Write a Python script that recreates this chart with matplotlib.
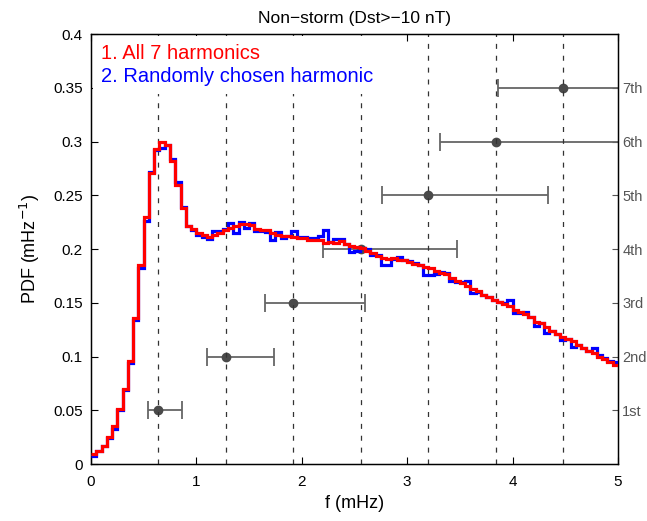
import numpy as np
import matplotlib
matplotlib.use('Agg')
import matplotlib.pyplot as plt
from matplotlib.ticker import FormatStrFormatter

plt.rcParams['font.family'] = ['Liberation Sans', 'DejaVu Sans']

# histogram, 0.05 mHz bins from 0 to 5 mHz
bin_width = 0.05
pdf_all = [0.009, 0.012, 0.017, 0.025, 0.035, 0.051, 0.070, 0.096, 0.136, 0.185,
           0.230, 0.271, 0.293, 0.300, 0.297, 0.282, 0.260, 0.238, 0.221, 0.2185,
           0.215, 0.213, 0.211, 0.2135, 0.215, 0.2175, 0.220, 0.2215, 0.223, 0.2233,
           0.222, 0.219, 0.2178, 0.218, 0.2152, 0.213, 0.212, 0.2118, 0.211, 0.210,
           0.2098, 0.2085, 0.2084, 0.208, 0.206, 0.2068, 0.2053, 0.2075, 0.2045, 0.2028,
           0.2015, 0.2006, 0.1985, 0.196, 0.1935, 0.1915, 0.1905, 0.1912, 0.190, 0.1895,
           0.188, 0.1865, 0.1851, 0.1835, 0.182, 0.1795, 0.178, 0.1765, 0.173, 0.1705,
           0.168, 0.166, 0.163, 0.1605, 0.157, 0.1555, 0.153, 0.151, 0.149, 0.147,
           0.1435, 0.141, 0.140, 0.1365, 0.1325, 0.131, 0.1275, 0.1235, 0.121, 0.1185,
           0.116, 0.114, 0.111, 0.108, 0.1055, 0.103, 0.100, 0.0975, 0.095, 0.0925]
pdf_random = [0.0075, 0.012, 0.0165, 0.024, 0.033, 0.0505, 0.069, 0.094, 0.134, 0.182,
              0.226, 0.272, 0.292, 0.294, 0.297, 0.284, 0.262, 0.239, 0.221, 0.218,
              0.2135, 0.2115, 0.2095, 0.217, 0.2165, 0.2185, 0.224, 0.215, 0.225, 0.2195,
              0.2245, 0.217, 0.217, 0.2155, 0.2084, 0.216, 0.2105, 0.212, 0.217, 0.211,
              0.211, 0.2105, 0.210, 0.212, 0.218, 0.2065, 0.209, 0.209, 0.2045, 0.1975,
              0.198, 0.2006, 0.200, 0.1945, 0.194, 0.1855, 0.1855, 0.1905, 0.1925, 0.190,
              0.189, 0.187, 0.185, 0.176, 0.1755, 0.177, 0.179, 0.178, 0.170, 0.1695,
              0.169, 0.1705, 0.159, 0.160, 0.157, 0.1555, 0.153, 0.151, 0.1495, 0.153,
              0.1405, 0.1405, 0.141, 0.137, 0.128, 0.131, 0.122, 0.124, 0.121, 0.1155,
              0.116, 0.109, 0.1105, 0.1075, 0.105, 0.108, 0.101, 0.099, 0.0955, 0.0945]

# harmonic centres and ranges
harm_f = [0.64, 1.28, 1.92, 2.56, 3.20, 3.84, 4.48]
harm_lo = [0.545, 1.10, 1.65, 2.20, 2.76, 3.31, 3.86]
harm_hi = [0.865, 1.74, 2.60, 3.47, 4.34, 5.40, 5.60]
harm_rank = [1, 2, 3, 4, 5, 6, 7]
harm_labels = ['1st', '2nd', '3rd', '4th', '5th', '6th', '7th']

edges = np.arange(len(pdf_all) + 1) * bin_width

fig = plt.figure(figsize=(6.47, 5.21), dpi=100)
ax = fig.add_axes([0.1406, 0.1094, 0.8146, 0.8253])
ax2 = ax.twinx()

# error bars on the right axis, under the histograms
f = np.array(harm_f)
xerr = [f - np.array(harm_lo), np.array(harm_hi) - f]
ax2.errorbar(harm_f, harm_rank, xerr=xerr, fmt='o', color='#4a4a4a', ecolor='#666666',
             ms=6, elinewidth=1.3, capsize=6.5, capthick=1.3)
ax2.set_ylim(0, 8)
ax2.set_yticks(harm_rank)
ax2.set_yticklabels(harm_labels)
ax2.tick_params(axis='y', direction='in', length=4, color='#555555', labelcolor='#555555',
                labelsize=10.5, pad=3)

ax.set_zorder(ax2.get_zorder() + 1)
ax.patch.set_visible(False)

for fc in harm_f:
    ax.axvline(fc, color='#333333', lw=0.9, ls=(0, (4, 5.5)), zorder=1)

l2 = ax.stairs(pdf_random, edges, baseline=None, color='blue', lw=2.3, zorder=3,
               label='2. Randomly chosen harmonic')
l1 = ax.stairs(pdf_all, edges, baseline=None, color='red', lw=2.3, zorder=4,
               label='1. All 7 harmonics')

leg = ax.legend(handles=[l1, l2], loc='upper left', handlelength=0, handletextpad=0,
                fontsize=14.5, frameon=True, facecolor='white', edgecolor='none',
                framealpha=1, borderaxespad=0.1, borderpad=0.4, labelspacing=0.2,
                labelcolor=['red', 'blue'])
leg.set_zorder(5)
for h in leg.legend_handles:
    h.set_visible(False)

ax.set_xlim(0, 5)
ax.set_ylim(0, 0.4)
ax.set_xticks(range(6))
ax.set_yticks(np.arange(9) * 0.05)
ax.yaxis.set_major_formatter(FormatStrFormatter('%g'))
ax.tick_params(direction='in', length=5, top=True, labelsize=11, pad=6)
ax.tick_params(axis='x', pad=8)
for sp in ax.spines.values():
    sp.set_linewidth(1.0)

ax.set_xlabel('f (mHz)', fontsize=13)
ax.set_ylabel('PDF (mHz$^{-1}$)', fontsize=13, labelpad=8)
ax.set_title('Non\u2212storm (Dst>\u221210 nT)', fontsize=12.5, pad=8)

fig.savefig('out.png', dpi=100)
